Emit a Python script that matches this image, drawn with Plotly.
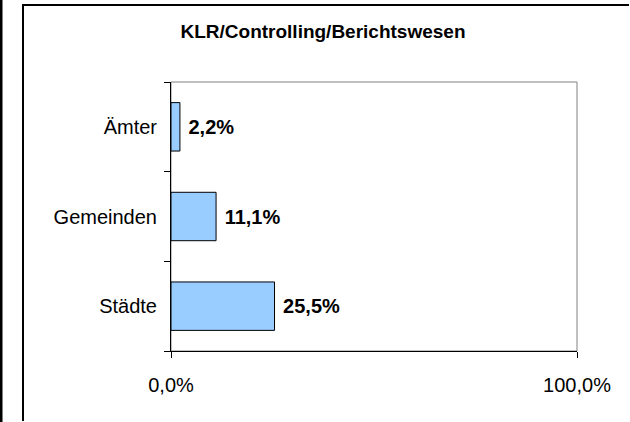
import plotly.graph_objects as go

# data (bottom to top)
categories = ["Städte", "Gemeinden", "Ämter"]
shares = [0.255, 0.111, 0.022]
title_text = "KLR/Controlling/Berichtswesen"

W, H = 630, 422
L, R, T, B = 171, 577, 82, 351  # plot area in pixels


def px_x(x):
    return (x - L) / (R - L)


def px_y(y):
    return (B - y) / (B - T)


font_family = "Liberation Sans, Arial, sans-serif"

fig = go.Figure()
fig.add_trace(go.Bar(
    x=shares,
    y=categories,
    orientation="h",
    marker=dict(color="#99CCFF", line=dict(color="#000000", width=1)),
    texttemplate=" %{x:.1%}",
    textposition="outside",
    textfont=dict(family=font_family, size=20, color="#000000", weight="bold"),
    cliponaxis=False,
))

fig.update_layout(
    width=W,
    height=H,
    separators=",.",
    paper_bgcolor="#FFFFFF",
    plot_bgcolor="#FFFFFF",
    font=dict(family=font_family, color="#000000", size=20),
    showlegend=False,
    bargap=0.46,
    margin=dict(l=L, r=W - R, t=T, b=H - B, pad=0),
    title=dict(
        text=title_text,
        x=323 / W,
        xanchor="center",
        y=1 - 31 / H,
        yanchor="middle",
        font=dict(family=font_family, size=19, color="#000000", weight="bold"),
    ),
    xaxis=dict(
        range=[0, 1],
        tickvals=[0, 1],
        tickformat=".1%",
        showgrid=False,
        zeroline=False,
        showline=True,
        linecolor="#000000",
        linewidth=1,
        ticks="outside",
        ticklen=6,
        tickcolor="#000000",
        tickfont=dict(size=20, color="#000000"),
        ticklabelstandoff=10,
    ),
    yaxis=dict(
        categoryorder="array",
        categoryarray=categories,
        showgrid=False,
        zeroline=False,
        showline=True,
        linecolor="#000000",
        linewidth=1,
        ticks="outside",
        tickson="boundaries",
        ticklen=6,
        tickcolor="#000000",
        tickfont=dict(size=20, color="#000000"),
        ticklabelstandoff=9,
    ),
    shapes=[
        # grey plot-area border (top/right)
        dict(type="rect", xref="paper", yref="paper", x0=0, x1=1, y0=0, y1=1,
             line=dict(color="#808080", width=1), layer="below"),
        # outer chart frame
        dict(type="line", xref="paper", yref="paper",
             x0=px_x(23), x1=px_x(W - 1), y0=px_y(5), y1=px_y(5),
             line=dict(color="#000000", width=2)),
        dict(type="line", xref="paper", yref="paper",
             x0=px_x(23), x1=px_x(23), y0=px_y(4), y1=px_y(H - 1),
             line=dict(color="#000000", width=2)),
        # left edge line
        dict(type="line", xref="paper", yref="paper",
             x0=px_x(1), x1=px_x(1), y0=px_y(0), y1=px_y(H),
             line=dict(color="#000000", width=3)),
    ],
)

fig.write_html(
    "out.html",
    config={"displayModeBar": False},
    post_script="document.body.style.margin='0';",
)
